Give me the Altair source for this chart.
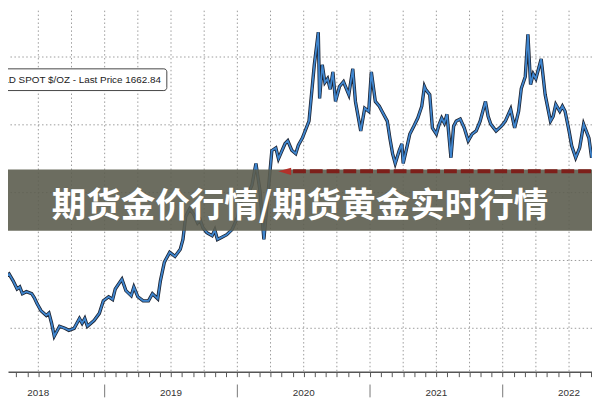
import altair as alt
import pandas as pd

# ---- data (decimal year, USD/oz) ----
years = [
    2018.21, 2018.25, 2018.28, 2018.31, 2018.34, 2018.36, 2018.38, 2018.41, 2018.45, 2018.47,
    2018.49, 2018.52, 2018.56, 2018.58, 2018.60, 2018.62, 2018.66, 2018.70, 2018.73, 2018.77,
    2018.81, 2018.83, 2018.85, 2018.87, 2018.92, 2018.96, 2018.99, 2019.03, 2019.06, 2019.08,
    2019.13, 2019.16, 2019.20, 2019.22, 2019.25, 2019.29, 2019.33, 2019.36, 2019.40, 2019.42,
    2019.45, 2019.49, 2019.53, 2019.57, 2019.59, 2019.61, 2019.64, 2019.67, 2019.70, 2019.72,
    2019.74, 2019.77, 2019.81, 2019.83, 2019.85, 2019.88, 2019.92, 2019.96, 2020.00, 2020.03,
    2020.07, 2020.11, 2020.14, 2020.17, 2020.20, 2020.23, 2020.26, 2020.29, 2020.31, 2020.33,
    2020.36, 2020.38, 2020.41, 2020.44, 2020.46, 2020.49, 2020.54, 2020.58, 2020.61, 2020.62,
    2020.64, 2020.66, 2020.68, 2020.70, 2020.72, 2020.74, 2020.77, 2020.80, 2020.84, 2020.87,
    2020.89, 2020.93, 2020.96, 2020.99, 2021.01, 2021.04, 2021.07, 2021.09, 2021.13, 2021.15,
    2021.17, 2021.19, 2021.22, 2021.24, 2021.25, 2021.28, 2021.30, 2021.33, 2021.36, 2021.39,
    2021.41, 2021.42, 2021.45, 2021.47, 2021.50, 2021.52, 2021.54, 2021.56, 2021.58, 2021.61,
    2021.63, 2021.65, 2021.68, 2021.71, 2021.74, 2021.77, 2021.80, 2021.83, 2021.87, 2021.89,
    2021.91, 2021.95, 2021.99, 2022.02, 2022.06, 2022.09, 2022.12, 2022.14, 2022.17, 2022.19,
    2022.21, 2022.23, 2022.25, 2022.29, 2022.32, 2022.36, 2022.38, 2022.40, 2022.43, 2022.45,
    2022.47, 2022.50, 2022.52, 2022.55, 2022.58, 2022.61, 2022.65, 2022.67,
]
prices = [
    1325, 1351, 1360, 1340, 1316, 1322, 1302, 1308, 1302, 1290,
    1273, 1252, 1238, 1245, 1215, 1177, 1206, 1200, 1194, 1200,
    1229, 1215, 1229, 1206, 1223, 1244, 1281, 1293, 1285, 1316,
    1345, 1311, 1296, 1322, 1293, 1281, 1281, 1302, 1287, 1340,
    1395, 1424, 1412, 1433, 1462, 1529, 1552, 1537, 1511, 1520,
    1497, 1482, 1473, 1490, 1462, 1468, 1476, 1491, 1526, 1578,
    1587, 1622, 1686, 1607, 1462, 1593, 1724, 1732, 1700, 1718,
    1745, 1753, 1725, 1715, 1740, 1761, 1811, 1977, 2073, 1878,
    1977, 1925, 1936, 1905, 1956, 1869, 1913, 1927, 1889, 1965,
    1869, 1782, 1849, 1840, 1956, 1869, 1855, 1840, 1811, 1760,
    1715, 1686, 1724, 1744, 1686, 1738, 1773, 1796, 1820, 1855,
    1913, 1904, 1889, 1791, 1773, 1800, 1820, 1805, 1831, 1703,
    1796, 1811, 1817, 1791, 1753, 1773, 1782, 1811, 1869, 1825,
    1802, 1782, 1796, 1811, 1846, 1791, 1840, 1907, 1942, 2067,
    1919, 1950, 1936, 1994, 1889, 1811, 1825, 1860, 1840, 1855,
    1840, 1782, 1738, 1703, 1732, 1802, 1761, 1703,
]
grid_prices = [1200, 1400, 1600, 1800, 2000]
year_labels = [2018, 2019, 2020, 2021, 2022]
last_price = 1662.84
legend_text = "GOLD SPOT $/OZ - Last Price 1662.84"
banner_text = "期货金价行情/期货黄金实时行情"

# ---- layout ----
T0, T1 = 2018.2714, 2022.673
P0, P1 = 1072.0, 2136.7
W, H = 592, 366
DASH_START = 2020.42
ARROW_T = 2020.357

xs = alt.Scale(domain=[T0, T1], nice=False, zero=False)
ys = alt.Scale(domain=[P0, P1], nice=False, zero=False)

month_ticks = [round(y + m / 12, 4) for y in range(2018, 2023) for m in range(12)
               if T0 <= y + m / 12 <= T1]
quarters = [y + q / 4 for y in range(2018, 2023) for q in range(4) if T0 < y + q / 4 < T1]

x_axis = alt.Axis(values=month_ticks, labels=False, title=None, grid=False,
                  ticks=True, tickSize=5, tickColor="#555", tickWidth=1,
                  domain=True, domainColor="#555", domainWidth=1.5)


def X(field):
    return alt.X(field, type="quantitative", scale=xs, axis=x_axis)


def Y(field):
    return alt.Y(field, type="quantitative", scale=ys, axis=None)


df = pd.DataFrame({"t": years, "price": prices})
one = pd.DataFrame({"k": [0]})

vgrid = alt.Chart(pd.DataFrame({"t": quarters})).mark_rule(
    color="#9a9a9a", strokeDash=[1.5, 2.5], strokeWidth=1
).encode(x=X("t"))

hgrid = alt.Chart(pd.DataFrame({"p": grid_prices})).mark_rule(
    color="#9a9a9a", strokeDash=[1.5, 2.5], strokeWidth=1
).encode(y=Y("p"))

line_dark = alt.Chart(df).mark_line(color="#1c2230", strokeWidth=3.4, clip=True,
                                    strokeJoin="miter").encode(x=X("t"), y=Y("price"))
line_blue = alt.Chart(df).mark_line(color="#3f86cf", strokeWidth=1.8, clip=True).encode(
    x=X("t"), y=Y("price"))

banner = alt.Chart(one).mark_rect(color="#5c5d4f", opacity=0.9).encode(
    x=alt.value(0), x2=alt.value(W), y=alt.value(161), y2=alt.value(223))

dash_df = pd.DataFrame({"t": [DASH_START], "t2": [T1], "p": [last_price]})
dash = alt.Chart(dash_df).mark_rule(color="#7d1f1a", strokeWidth=4, strokeDash=[13, 4]).encode(
    x=X("t"), x2="t2", y=Y("p"))

arrow = alt.Chart(pd.DataFrame({"t": [ARROW_T], "p": [last_price]})).mark_point(
    shape="M1,-0.55 L-1,0 L1,0.55 Z", filled=True, size=170, color="#b3302a", opacity=1
).encode(x=X("t"), y=Y("p"))

leg_box = alt.Chart(one).mark_rect(fill="white", stroke="#444", strokeWidth=1,
                                   cornerRadius=3).encode(
    x=alt.value(-20), x2=alt.value(161), y=alt.value(59), y2=alt.value(81))
leg_txt = alt.Chart(pd.DataFrame({"s": [legend_text]})).mark_text(
    align="right", baseline="middle", fontSize=10, font="Liberation Sans", color="#222"
).encode(x=alt.value(155), y=alt.value(70), text="s:N")

sep = alt.Chart(pd.DataFrame({"t": year_labels[1:]})).mark_rule(
    color="#777", strokeWidth=1).encode(x=X("t"), y=alt.value(379), y2=alt.value(392))

ylab_df = pd.DataFrame({"t": [y + 0.5 for y in year_labels],
                        "s": [str(y) for y in year_labels]})
ylab = alt.Chart(ylab_df).mark_text(
    fontSize=10, font="Liberation Sans", color="#333", baseline="middle"
).encode(x=X("t"), y=alt.value(388), text="s:N")

btxt = alt.Chart(pd.DataFrame({"s": [banner_text]})).mark_text(
    fontSize=35, font="Noto Sans CJK SC", fontWeight="bold", color="white",
    align="center", baseline="middle"
).encode(x=alt.value(296), y=alt.value(198), text="s:N")

chart = alt.layer(
    vgrid, hgrid, line_dark, line_blue, banner, dash, arrow,
    leg_box, leg_txt, sep, ylab, btxt
).properties(
    width=W, height=H,
    autosize=alt.AutoSizeParams(type="none"),
    padding={"left": 0, "top": 0, "right": 0, "bottom": 26},
    background="white",
).configure_view(stroke=None)

chart.save("out.html", embed_options={"renderer": "svg", "actions": False})
